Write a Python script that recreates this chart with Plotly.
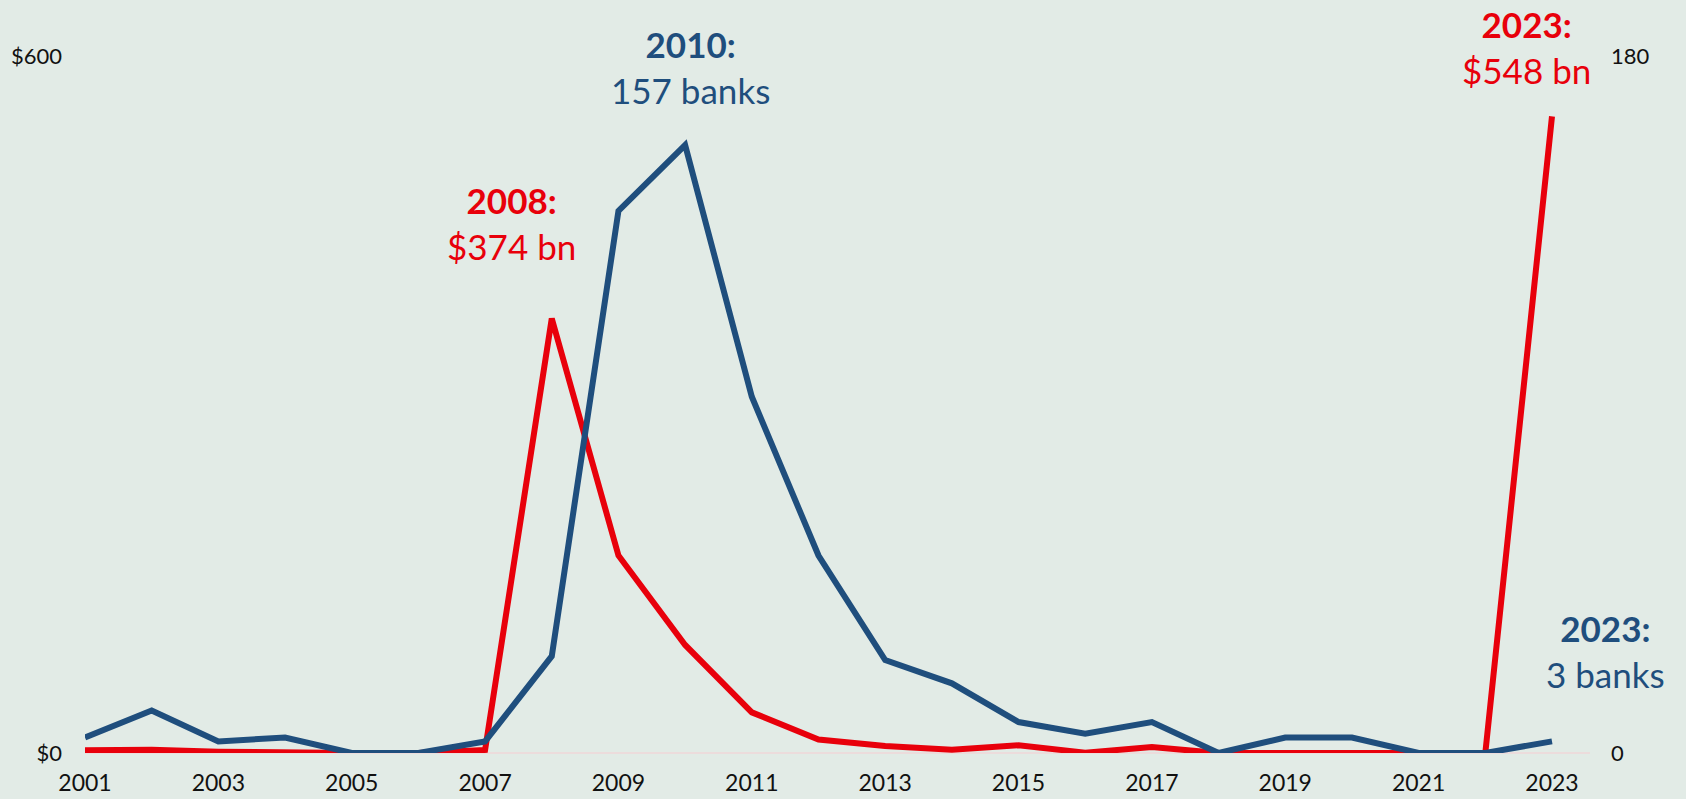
import plotly.graph_objects as go

years = list(range(2001, 2024))
assets_bn = [2.3, 2.7, 1.1, 0.2, 0.0, 0.0, 2.6, 374, 170, 93, 35, 11.6, 6.0, 2.9, 6.7, 0.3, 5.1, 0.0, 0.2, 0.5, 0.0, 0.0, 548]
bank_failures = [4, 11, 3, 4, 0, 0, 3, 25, 140, 157, 92, 51, 24, 18, 8, 5, 8, 0, 4, 4, 0, 0, 3]

left_ticks = [0, 600]
left_ticktext = ["$0", "$600"]
right_ticks = [0, 180]
right_ticktext = ["0", "180"]
x_ticks = list(range(2001, 2024, 2))

RED = "#e8000b"
BLUE = "#1f4e7d"
BG = "#e2ebe6"
FONT = "Lato"

fig = go.Figure()
fig.add_trace(go.Scatter(x=years, y=assets_bn, mode="lines", line=dict(color=RED, width=6),
                         yaxis="y", showlegend=False, hoverinfo="skip"))
fig.add_trace(go.Scatter(x=years, y=bank_failures, mode="lines", line=dict(color=BLUE, width=6),
                         yaxis="y2", showlegend=False, hoverinfo="skip"))

ann_font = 35
annotations = [
    dict(x=0.2837, y=0.760, text="<b>2008:</b><br>$374 bn", font=dict(color=RED, size=ann_font, family=FONT)),
    dict(x=0.402, y=0.984, text="<b>2010:</b><br>157 banks", font=dict(color=BLUE, size=ann_font, family=FONT)),
    dict(x=0.958, y=1.013, text="<b>2023:</b><br>$548 bn", font=dict(color=RED, size=ann_font, family=FONT)),
    dict(x=1.010, y=0.146, text="<b>2023:</b><br>3 banks", font=dict(color=BLUE, size=ann_font, family=FONT)),
]
for a in annotations:
    a.update(xref="paper", yref="paper", showarrow=False, xanchor="center", yanchor="middle", align="center")

fig.update_layout(
    width=1686, height=799,
    paper_bgcolor=BG, plot_bgcolor=BG,
    margin=dict(l=85, r=96, t=56, b=46),
    font=dict(family=FONT, size=23, color="#111111"),
    xaxis=dict(range=[2001, 2023.57], tickmode="array", tickvals=x_ticks,
               showgrid=False, zeroline=False, showline=False, ticks="", automargin=False,
               ticklabelstandoff=14, tickfont=dict(size=23)),
    yaxis=dict(range=[0, 600], tickmode="array", tickvals=left_ticks, ticktext=left_ticktext,
               showgrid=False, zeroline=True, zerolinecolor="#ecdcdc", zerolinewidth=2, automargin=False,
               showline=False, ticks="", ticklabelstandoff=22, tickfont=dict(size=22)),
    yaxis2=dict(range=[0, 180], overlaying="y", side="right", tickmode="array",
                tickvals=right_ticks, ticktext=right_ticktext, showgrid=False, automargin=False,
                zeroline=False, showline=False, ticks="", ticklabelstandoff=20,
                tickfont=dict(size=22)),
    annotations=annotations,
)

fig.write_html("out.html")
